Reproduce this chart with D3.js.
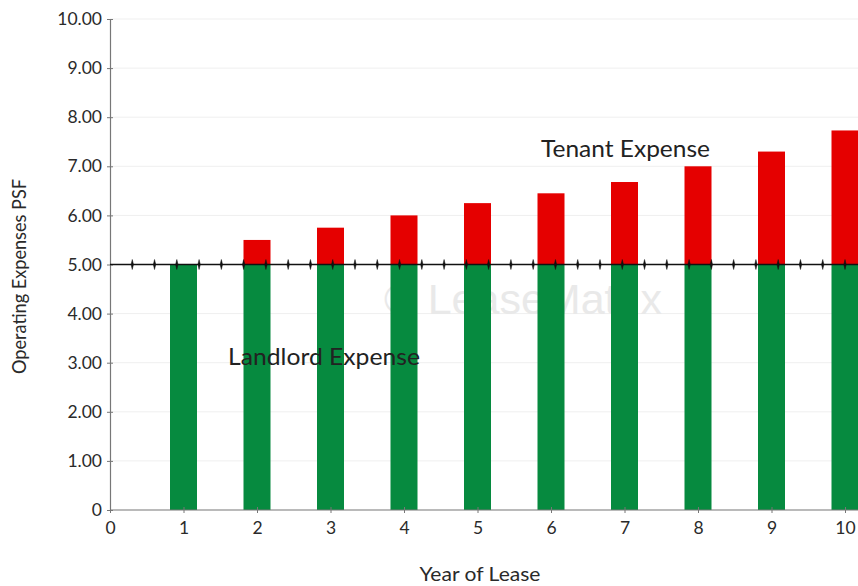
<!DOCTYPE html>
<html>
<head>
<meta charset="utf-8">
<script src="https://cdn.jsdelivr.net/npm/d3@7/dist/d3.min.js"></script>
<style>
  html, body { margin: 0; padding: 0; background: #fff; }
  svg { display: block; }
  text { font-family: Lato, "Open Sans", sans-serif; }
</style>
</head>
<body>
<svg id="chart" width="858" height="586"></svg>
<script>
// ---- data ----
const years = [1, 2, 3, 4, 5, 6, 7, 8, 9, 10];
const landlordExpense = [5.00, 5.00, 5.00, 5.00, 5.00, 5.00, 5.00, 5.00, 5.00, 5.00];
const totalExpense = [5.00, 5.50, 5.75, 6.00, 6.25, 6.45, 6.68, 7.00, 7.30, 7.73];
const baseYear = 5.00;
const yTickValues = [0, 1, 2, 3, 4, 5, 6, 7, 8, 9, 10];
const xTickValues = [0, 1, 2, 3, 4, 5, 6, 7, 8, 9, 10];
const markerCount = 33;

// ---- layout ----
const svg = d3.select("#chart");
const x = d3.scaleLinear().domain([0, 10]).range([110, 845]);
const y = d3.scaleLinear().domain([0, 10]).range([510, 19]);
const barW = 27;
const rightEdge = 858;

// gridlines
svg.append("g").selectAll("line")
  .data(yTickValues.filter(d => d > 0))
  .join("line")
  .attr("x1", x(0)).attr("x2", rightEdge)
  .attr("y1", d => y(d)).attr("y2", d => y(d))
  .attr("stroke", "#efefef").attr("stroke-width", 1);

// watermark
svg.append("text")
  .attr("x", 523).attr("y", 314)
  .attr("text-anchor", "middle")
  .style("font-family", "'Liberation Sans', Arial, sans-serif")
  .attr("font-size", 43)
  .attr("fill", "#e9e9e9")
  .text("© LeaseMatrix");

// landlord bars (green)
svg.append("g").selectAll("rect")
  .data(years)
  .join("rect")
  .attr("x", (d) => x(d) - barW / 2)
  .attr("width", barW)
  .attr("y", (d, i) => y(landlordExpense[i]))
  .attr("height", (d, i) => y(0) - y(landlordExpense[i]))
  .attr("fill", "#068a3f");

// tenant bars (red)
svg.append("g").selectAll("rect")
  .data(years)
  .join("rect")
  .attr("x", (d) => x(d) - barW / 2)
  .attr("width", barW)
  .attr("y", (d, i) => y(totalExpense[i]))
  .attr("height", (d, i) => Math.max(0, y(baseYear) - y(totalExpense[i])))
  .attr("fill", "#e50000");

// y axis
const yAxis = d3.axisLeft(y)
  .tickValues(yTickValues)
  .tickFormat(d => d === 0 ? "0" : d.toFixed(2))
  .tickSize(3)
  .tickPadding(5);
const gy = svg.append("g").attr("transform", `translate(${x(0)},0)`).call(yAxis);
gy.select(".domain").attr("stroke", "#777").attr("stroke-width", 1.2);
gy.selectAll(".tick line").attr("stroke", "#777").attr("x1", 3);
gy.selectAll(".tick text").attr("fill", "#2a2a2a").attr("font-size", 17.5)
  .style("font-family", "Lato, sans-serif");

// x axis
const xAxis = d3.axisBottom(x)
  .tickValues(xTickValues)
  .tickFormat(d => String(d))
  .tickSize(3)
  .tickPadding(9);
const gx = svg.append("g").attr("transform", `translate(0,${y(0)})`).call(xAxis);
gx.select(".domain").attr("d", `M${x(0)},0H${rightEdge}`).attr("stroke", "#777").attr("stroke-width", 1.2);
gx.selectAll(".tick line").attr("stroke", "#777").attr("y1", -3);
gx.selectAll(".tick text").attr("fill", "#2a2a2a").attr("font-size", 17.5)
  .style("font-family", "Lato, sans-serif");

// base year line with markers
svg.append("line")
  .attr("x1", x(0)).attr("x2", rightEdge)
  .attr("y1", y(baseYear)).attr("y2", y(baseYear))
  .attr("stroke", "#111").attr("stroke-width", 1.6);
svg.append("g").selectAll("path")
  .data(d3.range(1, markerCount + 1).map(i => i * 10 / markerCount))
  .join("path")
  .attr("d", d => `M${x(d)},${y(baseYear) - 5}L${x(d) + 1.2},${y(baseYear)}L${x(d)},${y(baseYear) + 5}L${x(d) - 1.2},${y(baseYear)}Z`)
  .attr("fill", "#111").attr("stroke", "#111").attr("stroke-width", 0.5);

// annotations
svg.append("text").attr("x", 541).attr("y", 157)
  .attr("font-size", 24).attr("fill", "#222")
  .attr("textLength", 169).attr("lengthAdjust", "spacingAndGlyphs")
  .text("Tenant Expense");
svg.append("text").attr("x", 228).attr("y", 365)
  .attr("font-size", 24).attr("fill", "#222")
  .attr("textLength", 192).attr("lengthAdjust", "spacingAndGlyphs")
  .text("Landlord Expense");

// axis titles
svg.append("text")
  .attr("transform", `translate(26,${(y(0) + y(10)) / 2 + 12}) rotate(-90)`)
  .attr("text-anchor", "middle")
  .attr("font-size", 18.5).attr("fill", "#2a2a2a")
  .attr("textLength", 195).attr("lengthAdjust", "spacingAndGlyphs")
  .text("Operating Expenses PSF");
svg.append("text")
  .attr("x", 480).attr("y", 581)
  .attr("text-anchor", "middle")
  .attr("font-size", 19).attr("fill", "#2a2a2a")
  .attr("textLength", 121).attr("lengthAdjust", "spacingAndGlyphs")
  .text("Year of Lease");
</script>
</body>
</html>
